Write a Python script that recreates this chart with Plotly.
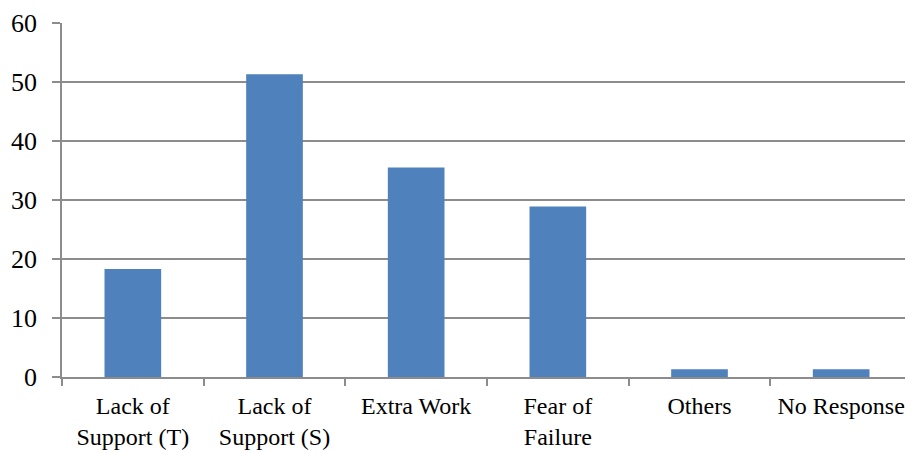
import plotly.graph_objects as go

categories = ["Lack of<br>Support (T)", "Lack of<br>Support (S)", "Extra Work",
              "Fear of<br>Failure", "Others", "No Response"]
values = [18.3, 51.3, 35.5, 28.9, 1.3, 1.3]
y_ticks = [0, 10, 20, 30, 40, 50, 60]

grid = "#8c8c8c"
family = "Liberation Serif, Times New Roman, serif"
yfont = dict(family=family, size=26, color="black")
xfont = dict(family=family, size=24, color="black")

fig = go.Figure(go.Bar(x=categories, y=values, marker=dict(color="#4F81BD", line=dict(width=0))))

# page body has an 8px margin, so the figure is shifted by 8px
fig.update_layout(
    width=905, height=445,
    margin=dict(l=54, r=1, t=15, b=76, autoexpand=False),
    plot_bgcolor="white", paper_bgcolor="white",
    bargap=0.6, showlegend=False, font=yfont,
)
fig.update_xaxes(
    automargin=False, tickangle=0,
    showline=True, linecolor=grid, linewidth=1.5,
    ticks="outside", tickson="boundaries", ticklen=7, tickcolor=grid, tickwidth=1.5,
    showgrid=False, tickfont=xfont, ticklabelstandoff=6,
)
fig.update_yaxes(
    automargin=False,
    range=[0, 60], tickvals=y_ticks, showline=True, linecolor=grid, linewidth=1.5,
    ticks="outside", ticklen=8, tickcolor=grid, tickwidth=1.5,
    showgrid=True, gridcolor=grid, gridwidth=1.5, zeroline=False,
    tickfont=yfont, ticklabelstandoff=10,
)

fig.write_html("out.html")
